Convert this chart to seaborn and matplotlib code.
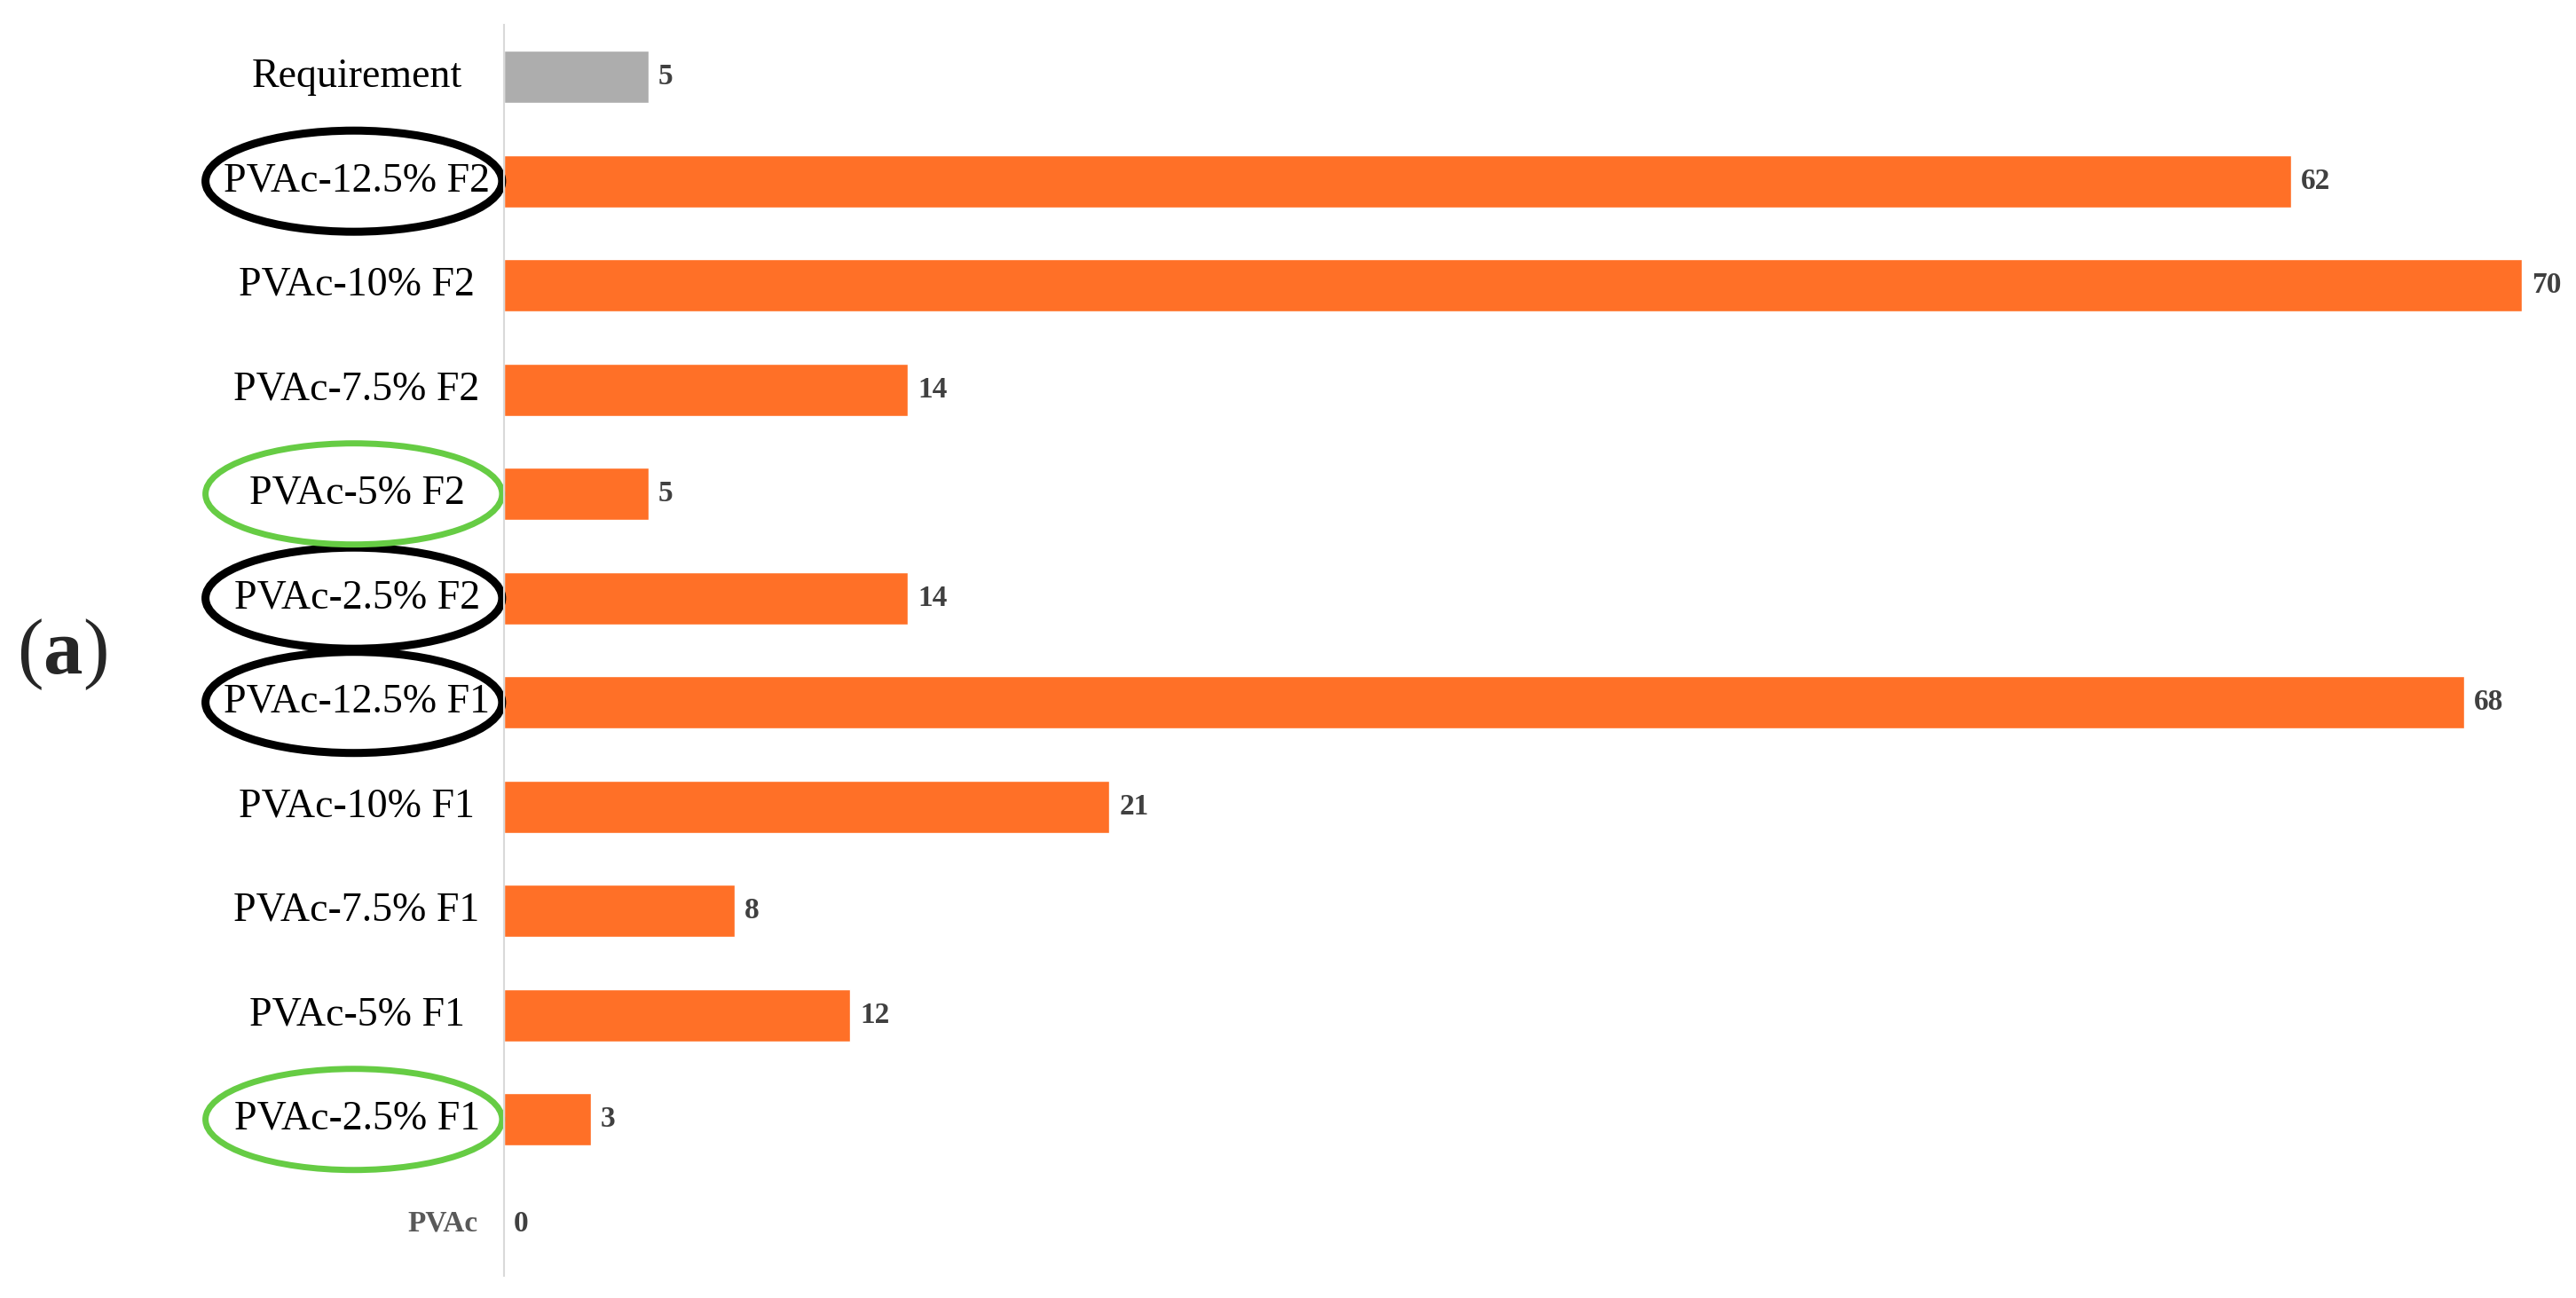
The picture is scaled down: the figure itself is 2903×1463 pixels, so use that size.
import matplotlib
matplotlib.use("Agg")
import matplotlib.pyplot as plt
from matplotlib.patches import Ellipse
import seaborn as sns

# ── Data ─────────────────────────────────────────────────────────────────────
categories = [
    "Requirement",
    "PVAc-12.5% F2", "PVAc-10% F2", "PVAc-7.5% F2", "PVAc-5% F2", "PVAc-2.5% F2",
    "PVAc-12.5% F1", "PVAc-10% F1", "PVAc-7.5% F1", "PVAc-5% F1", "PVAc-2.5% F1",
    "PVAc",
]
values = [5, 62, 70, 14, 5, 14, 68, 21, 8, 12, 3, 0]

# categories circled in the original figure
circled_black = ["PVAc-12.5% F2", "PVAc-2.5% F2", "PVAc-12.5% F1"]
circled_green = ["PVAc-5% F2", "PVAc-2.5% F1"]

GRAY   = "#ADADAD"
ORANGE = "#FF7027"
colors = [GRAY if c == "Requirement" else ORANGE for c in categories]

sns.set_style("white")
plt.rcParams["font.family"] = ["Liberation Serif", "DejaVu Serif"]
plt.rcParams["mathtext.fontset"] = "custom"
plt.rcParams["mathtext.bf"] = "Liberation Serif:bold"
plt.rcParams["mathtext.rm"] = "Liberation Serif"

fig = plt.figure(figsize=(29.03, 14.63), dpi=100)
ax = fig.add_axes([0.1957, 0.0171, 0.979 - 0.1957, 0.9638])

sns.barplot(x=values, y=categories, hue=categories, palette=colors,
            legend=False, width=0.5, saturation=1, orient="h", ax=ax)

ax.set_xlim(0, 70)
ax.set_ylim(len(categories) - 0.5, -0.5)
ax.set_xlabel("")
ax.set_ylabel("")
ax.tick_params(left=False, bottom=False, labelleft=False, labelbottom=False)
for side in ["top", "right", "bottom"]:
    ax.spines[side].set_visible(False)
ax.spines["left"].set_color("#D9D9D9")
ax.spines["left"].set_linewidth(1.5)

# value labels
for cont in ax.containers:
    ax.bar_label(cont, padding=8, fontsize=24, fontweight="bold",
                 color="#404040", clip_on=False)

# category labels (centered, like the original)
ytrans = ax.get_yaxis_transform()
for i, cat in enumerate(categories):
    if cat == "PVAc":
        ax.text(-0.0128, i, cat, transform=ytrans, ha="right", va="center",
                fontsize=24, fontweight="bold", color="#595959")
    else:
        ax.text(-0.073, i, cat, transform=ytrans, ha="center", va="center",
                fontsize=33, color="black")

# highlight ellipses
for cat in circled_black + circled_green:
    col = "black" if cat in circled_black else "#66CC44"
    lw = 6.5 if cat in circled_black else 5
    e = Ellipse((-0.0745, categories.index(cat)), width=0.147, height=0.97,
                transform=ytrans, fill=False, edgecolor=col, linewidth=lw,
                clip_on=False)
    ax.add_patch(e)

fig.text(0.024, 0.496, r"($\mathbf{a}$)", ha="center", va="center", fontsize=64)

fig.savefig("out.png", dpi=100)
